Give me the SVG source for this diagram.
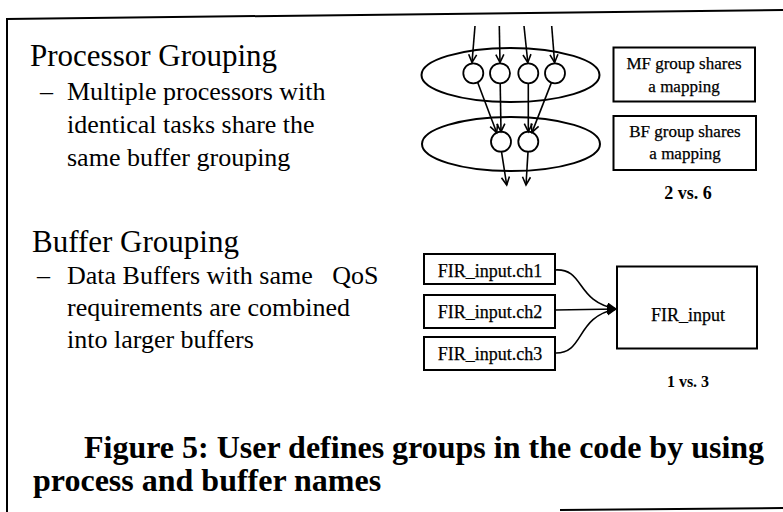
<svg xmlns="http://www.w3.org/2000/svg" width="783" height="512" viewBox="0 0 783 512">
<defs>
<style>
.t{font-family:"Liberation Serif","Times New Roman",serif;fill:#000}
.h{font-size:31px}
.b{font-size:26px}
.s{font-size:17px;stroke:#000;stroke-width:0.25}
.f{font-size:18px;stroke:#000;stroke-width:0.25}
.v{font-weight:bold}
.cap{font-size:32px;font-weight:bold}
.box{fill:#fff;stroke:#000;stroke-width:2}
.ell{fill:none;stroke:#000;stroke-width:2}
.cir{fill:#fff;stroke:#000;stroke-width:1.8}
.ln{fill:none;stroke:#000;stroke-width:1.6}
.fr{fill:none;stroke:#000;stroke-width:2}
</style>
<marker id="va" markerUnits="userSpaceOnUse" markerWidth="12" markerHeight="12" refX="9" refY="5" orient="auto">
<path d="M1,1 L9,5 L1,9" fill="none" stroke="#000" stroke-width="1.6"/>
</marker>
<marker id="fa" markerUnits="userSpaceOnUse" markerWidth="12" markerHeight="12" refX="10" refY="5" orient="auto">
<path d="M0,0 L10,5 L0,10 Z" fill="#000"/>
</marker>
</defs>
<rect width="783" height="512" fill="#fff"/>
<g id="frame">
<path class="fr" d="M6,19 L783,10"/>
<path class="fr" d="M7,18 L7,512"/>
<path class="fr" d="M560,510 L783,508"/>
</g>
<g id="text-left">
<text class="t h" x="30" y="66">Processor Grouping</text>
<text class="t b" x="40" y="100">–</text>
<text class="t b" x="67" y="100">Multiple processors with</text>
<text class="t b" x="67" y="133">identical tasks share the</text>
<text class="t b" x="67" y="166">same buffer grouping</text>
<text class="t h" x="32" y="252">Buffer Grouping</text>
<text class="t b" x="37" y="284">–</text>
<text class="t b" x="67" y="284" xml:space="preserve">Data Buffers with same   QoS</text>
<text class="t b" x="67" y="316">requirements are combined</text>
<text class="t b" x="67" y="348">into larger buffers</text>
</g>
<g id="groups">
<ellipse id="mf-group" class="ell" cx="510.5" cy="75" rx="89" ry="27"/>
<ellipse id="bf-group" class="ell" cx="511" cy="144" rx="89" ry="27"/>
</g>
<g id="processors">
<circle id="p1" class="cir" cx="473.3" cy="73.3" r="10"/>
<circle id="p2" class="cir" cx="500" cy="73.3" r="10"/>
<circle id="p3" class="cir" cx="528.3" cy="73.3" r="10"/>
<circle id="p4" class="cir" cx="555" cy="73.3" r="10"/>
<circle id="b1" class="cir" cx="501" cy="141.7" r="10"/>
<circle id="b2" class="cir" cx="528.3" cy="141.7" r="10"/>
</g>
<g id="connectors">
<line class="ln" x1="475" y1="26" x2="472" y2="62.5" marker-end="url(#va)"/>
<line class="ln" x1="499.3" y1="26" x2="500" y2="62.5" marker-end="url(#va)"/>
<line class="ln" x1="524" y1="26" x2="527.8" y2="62.5" marker-end="url(#va)"/>
<line class="ln" x1="551.7" y1="26" x2="554.6" y2="62.5" marker-end="url(#va)"/>
<line class="ln" x1="477.6" y1="82.3" x2="496.7" y2="132.7" marker-end="url(#va)"/>
<line class="ln" x1="500.2" y1="83.3" x2="501" y2="131.7" marker-end="url(#va)"/>
<line class="ln" x1="528.3" y1="83.3" x2="528.3" y2="131.7" marker-end="url(#va)"/>
<line class="ln" x1="551.4" y1="82.6" x2="532" y2="132.4" marker-end="url(#va)"/>
<line class="ln" x1="501.5" y1="151.7" x2="506.7" y2="185" marker-end="url(#va)"/>
<line class="ln" x1="528" y1="151.7" x2="526" y2="185" marker-end="url(#va)"/>
<path class="ln" d="M555,270 C585,268 575,302 617,309" marker-end="url(#fa)"/>
<line class="ln" x1="555" y1="310" x2="617" y2="309" marker-end="url(#fa)"/>
<path class="ln" d="M555,353 C585,354 575,316 617,309" marker-end="url(#fa)"/>
</g>
<g id="mf-box">
<rect class="box" x="613.5" y="47.5" width="141.5" height="54"/>
<text class="t s" x="684" y="68.5" text-anchor="middle">MF group shares</text>
<text class="t s" x="684" y="91.5" text-anchor="middle">a mapping</text>
</g>
<g id="bf-box">
<rect class="box" x="613.5" y="116" width="142.5" height="54"/>
<text class="t s" x="685" y="136.5" text-anchor="middle">BF group shares</text>
<text class="t s" x="685" y="159" text-anchor="middle">a mapping</text>
</g>
<text class="t v" x="688" y="199" text-anchor="middle" font-size="18">2 vs. 6</text>
<g id="ch1">
<rect class="box" x="424" y="254" width="131" height="30"/>
<text class="t f" x="490" y="277" text-anchor="middle">FIR_input.ch1</text>
</g>
<g id="ch2">
<rect class="box" x="424" y="295" width="131" height="33"/>
<text class="t f" x="490" y="318" text-anchor="middle">FIR_input.ch2</text>
</g>
<g id="ch3">
<rect class="box" x="424" y="337" width="131" height="33"/>
<text class="t f" x="490" y="360" text-anchor="middle">FIR_input.ch3</text>
</g>
<g id="fir-input">
<rect class="box" x="617" y="266.5" width="140" height="82"/>
<text class="t f" x="688" y="320.5" text-anchor="middle">FIR_input</text>
</g>
<text class="t v" x="688" y="387" text-anchor="middle" font-size="16">1 vs. 3</text>
<g id="caption">
<text class="t cap" x="84" y="458">Figure 5: User defines groups in the code by using</text>
<text class="t cap" x="33" y="491">process and buffer names</text>
</g>
</svg>
